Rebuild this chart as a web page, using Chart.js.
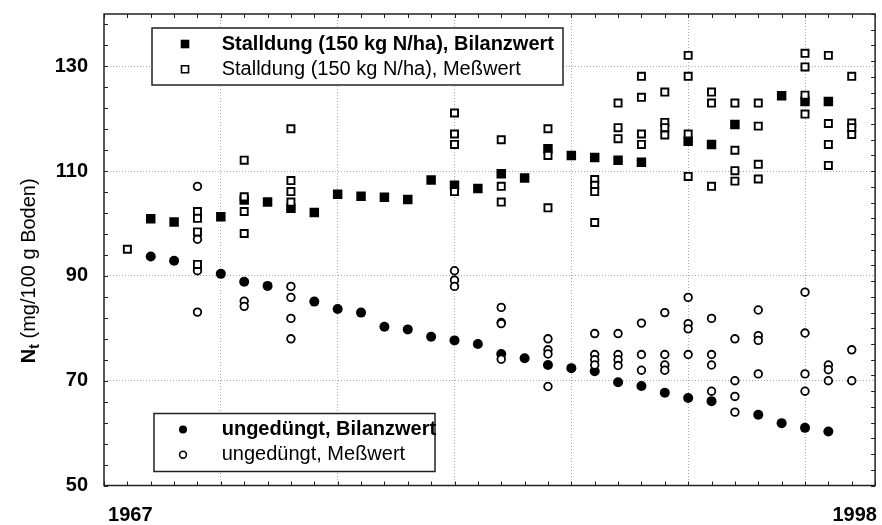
<!DOCTYPE html>
<html>
<head>
<meta charset="utf-8">
<title>Nt Bilanzwert / Meßwert</title>
<script src="https://cdn.jsdelivr.net/npm/chart.js@4.4.0/dist/chart.umd.min.js"></script>
<style>
  html, body { margin: 0; padding: 0; background: #fff; }
  #wrap { width: 882px; height: 525px; }
</style>
</head>
<body>
<div id="wrap"><canvas id="nt-chart" width="882" height="525"></canvas></div>
<script>
// Stalldung (150 kg N/ha), Bilanzwert
const stallBilanzYears = [1968, 1969, 1971, 1972, 1973, 1974, 1975, 1976, 1977, 1978, 1979, 1980, 1981, 1982,
  1983, 1984, 1985, 1986, 1987, 1988, 1989, 1991, 1992, 1993, 1995, 1996, 1997];
const stallBilanzValues = [100.9, 100.3, 101.3, 104.5, 104.1, 102.9, 102.1, 105.6, 105.2, 105.0, 104.6, 108.3, 107.3, 106.7,
  109.5, 108.7, 114.3, 113.0, 112.6, 112.1, 111.7, 115.7, 115.1, 118.9, 124.4, 123.3, 123.3];

// Stalldung (150 kg N/ha), Meßwert (several samples per year)
const stallMessYears = [1967, 1970, 1972, 1974, 1981, 1983, 1985, 1987, 1988, 1989, 1990, 1991, 1992, 1993, 1994, 1996, 1997, 1998];
const stallMessValues = [
  [95.1],
  [102.3, 101.0, 98.4, 92.2],
  [112.1, 105.1, 102.3, 98.1],
  [118.1, 108.2, 106.1, 104.1],
  [121.1, 117.1, 115.1, 106.1],
  [116.0, 107.1, 104.1],
  [118.1, 113.0, 103.0],
  [108.4, 107.3, 106.1, 100.2],
  [123.0, 118.3, 116.2],
  [128.1, 124.1, 117.1, 115.1],
  [125.1, 119.3, 118.3, 116.9],
  [132.1, 128.1, 117.1, 109.0],
  [125.1, 123.0, 107.1],
  [123.0, 114.0, 110.1, 108.1],
  [123.0, 118.6, 111.3, 108.5],
  [132.5, 129.9, 124.5, 120.9],
  [132.1, 119.1, 115.1, 111.1],
  [128.1, 119.2, 118.3, 117.0]
];

// ungedüngt, Bilanzwert
const ungBilanzYears = [1968, 1969, 1971, 1972, 1973, 1975, 1976, 1977, 1978, 1979, 1980, 1981, 1982,
  1983, 1984, 1985, 1986, 1987, 1988, 1989, 1990, 1991, 1992, 1994, 1995, 1996, 1997];
const ungBilanzValues = [93.7, 92.9, 90.4, 88.9, 88.1, 85.1, 83.7, 83.0, 80.3, 79.8, 78.4, 77.7, 77.0,
  75.1, 74.3, 73.0, 72.4, 71.8, 69.7, 69.0, 67.7, 66.7, 66.1, 63.5, 61.9, 61.0, 60.3];

// ungedüngt, Meßwert
const ungMessYears = [1970, 1972, 1974, 1981, 1983, 1985, 1987, 1988, 1989, 1990, 1991, 1992, 1993, 1994, 1996, 1997, 1998];
const ungMessValues = [
  [107.1, 97.0, 91.0, 83.1],
  [85.2, 84.2],
  [88.0, 85.9, 81.9, 78.0],
  [91.0, 89.2, 88.0],
  [84.0, 81.1, 80.9, 74.1],
  [78.0, 75.9, 75.1, 68.9],
  [79.0, 75.0, 74.0, 73.0],
  [79.0, 75.0, 74.0, 72.9],
  [81.0, 75.0, 72.0],
  [83.0, 75.0, 73.0, 72.0],
  [85.9, 80.9, 79.9, 75.0],
  [81.9, 75.0, 73.0, 68.0],
  [78.0, 70.0, 67.0, 64.0],
  [83.5, 78.6, 77.7, 71.3],
  [86.9, 79.1, 71.3, 68.0],
  [73.0, 72.1, 70.0],
  [75.9, 70.0]
];

const xTickLabels = [1967, 1998];
const yTickLabels = [50, 70, 90, 110, 130];

const FONT = "'Liberation Sans', Arial, Helvetica, sans-serif";
Chart.defaults.font.family = FONT;
Chart.defaults.color = '#000';

const pairs = (years, values) => years.map((x, i) => ({ x: x, y: values[i] }));
const groups = (years, lists) => years.flatMap((x, i) => lists[i].map(v => ({ x: x, y: v })));

const gridColor = '#a8a8a8';

// no automatic label padding, the plot box is fixed by the axis sizes
function noPad(s) {
  s.paddingLeft = 0; s.paddingRight = 0; s.paddingTop = 0; s.paddingBottom = 0;
}

// frame, inner ticks, two boxed legends and the y title
const decorPlugin = {
  id: 'decor',
  afterDraw(chart) {
    const ctx = chart.ctx;
    const { left, right, top, bottom } = chart.chartArea;
    const xs = chart.scales.x, ys = chart.scales.y;
    ctx.save();

    // inner ticks
    ctx.strokeStyle = '#222';
    ctx.lineWidth = 1;
    ctx.beginPath();
    for (let yr = xs.min; yr <= xs.max; yr++) {
      const px = Math.round(xs.getPixelForValue(yr)) + 0.5;
      ctx.moveTo(px, bottom); ctx.lineTo(px, bottom - 4);
      ctx.moveTo(px, top); ctx.lineTo(px, top + 4);
    }
    for (let v = ys.min; v <= ys.max; v += 4) {
      const py = Math.round(ys.getPixelForValue(v)) + 0.5;
      ctx.moveTo(left, py); ctx.lineTo(left + 4, py);
    }
    for (let v = ys.min; v <= ys.max; v += 3) {
      const py = Math.round(ys.getPixelForValue(v)) + 0.5;
      ctx.moveTo(right, py); ctx.lineTo(right - 4, py);
    }
    ctx.stroke();

    // frame
    ctx.lineWidth = 1.5;
    ctx.strokeStyle = '#222';
    ctx.strokeRect(left, top, right - left, bottom - top);

    // legends
    const ds = chart.data.datasets;
    drawLegendBox(ctx, left + 48, top + 14, 411, 57, [ds[2], ds[0]], 33);
    drawLegendBox(ctx, left + 50, bottom - 72, 281, 58, [ds[3], ds[1]], 29);

    // y title: N (bold) + t (subscript) + rest
    ctx.translate(29, (top + bottom) / 2 + 21);
    ctx.rotate(-Math.PI / 2);
    ctx.fillStyle = '#000';
    ctx.textBaseline = 'middle';
    const partN = 'bold 20px ' + FONT, partT = 'bold 14px ' + FONT, partRest = '20px ' + FONT;
    const rest = ' (mg/100 g Boden)';
    ctx.font = partN; const wN = ctx.measureText('N').width;
    ctx.font = partT; const wT = ctx.measureText('t').width;
    ctx.font = partRest; const wR = ctx.measureText(rest).width;
    let x0 = -(wN + wT + wR) / 2;
    ctx.font = partN; ctx.fillText('N', x0, 0); x0 += wN;
    ctx.font = partT; ctx.fillText('t', x0, 6); x0 += wT;
    ctx.font = partRest; ctx.fillText(rest, x0, 0);
    ctx.restore();
  }
};

function drawMarker(ctx, d, x, y) {
  ctx.save();
  ctx.fillStyle = d.backgroundColor;
  ctx.strokeStyle = d.borderColor;
  ctx.lineWidth = 1.6;
  const hollow = d.backgroundColor !== '#000';
  ctx.beginPath();
  if (d.pointStyle === 'rect') {
    const s = hollow ? 7 : 8.6;
    ctx.rect(x - s / 2, y - s / 2, s, s);
  } else {
    ctx.arc(x, y, hollow ? 3.4 : 4, 0, Math.PI * 2);
  }
  ctx.fill();
  if (hollow) ctx.stroke();
  ctx.restore();
}

function drawLegendBox(ctx, x, y, w, h, items, markerX) {
  ctx.save();
  ctx.fillStyle = '#fff';
  ctx.fillRect(x, y, w, h);
  ctx.lineWidth = 1.5;
  ctx.strokeStyle = '#222';
  ctx.strokeRect(x, y, w, h);
  items.forEach((d, i) => {
    const cy = y + 16 + i * 25.2;
    drawMarker(ctx, d, x + markerX, cy);
    ctx.fillStyle = '#000';
    ctx.textBaseline = 'middle';
    ctx.font = (i === 0 ? 'bold ' : '') + '20px ' + FONT;
    ctx.fillText(d.label, 221.7, cy);
  });
  ctx.restore();
}

new Chart(document.getElementById('nt-chart'), {
  type: 'scatter',
  data: {
    datasets: [
      {
        label: 'Stalldung (150 kg N/ha), Meßwert',
        data: groups(stallMessYears, stallMessValues),
        pointStyle: 'rect', pointRadius: 5, borderWidth: 1.9,
        backgroundColor: '#fff', borderColor: '#000', order: 0
      },
      {
        label: 'ungedüngt, Meßwert',
        data: groups(ungMessYears, ungMessValues),
        pointStyle: 'circle', pointRadius: 3.8, borderWidth: 1.8,
        backgroundColor: '#fff', borderColor: '#000', order: 1
      },
      {
        label: 'Stalldung (150 kg N/ha), Bilanzwert',
        data: pairs(stallBilanzYears, stallBilanzValues),
        pointStyle: 'rect', pointRadius: 6.7, borderWidth: 0,
        backgroundColor: '#000', borderColor: '#000', order: 2
      },
      {
        label: 'ungedüngt, Bilanzwert',
        data: pairs(ungBilanzYears, ungBilanzValues),
        pointStyle: 'circle', pointRadius: 5, borderWidth: 0,
        backgroundColor: '#000', borderColor: '#000', order: 3
      }
    ]
  },
  options: {
    responsive: false,
    animation: false,
    devicePixelRatio: 1,
    events: [],
    layout: { padding: { top: 14, right: 5, left: 0, bottom: 0 } },
    plugins: {
      legend: { display: false },
      tooltip: { enabled: false }
    },
    scales: {
      x: {
        type: 'linear',
        min: 1966,
        max: 1999,
        afterFit: s => { s.height = 39.5; noPad(s); },
        ticks: {
          stepSize: 1,
          autoSkip: false,
          maxRotation: 0,
          padding: 18,
          labelOffset: 3,
          font: { size: 20, weight: 'bold' },
          callback: v => xTickLabels.includes(v) ? String(v) : ''
        },
        grid: {
          drawTicks: false,
          color: c => (c.tick && c.tick.value > 1966 && c.tick.value < 1999 && (c.tick.value - 1966) % 5 === 0) ? gridColor : 'transparent'
        },
        border: { display: false, dash: [1, 2] }
      },
      y: {
        min: 50,
        max: 140,
        afterBuildTicks: s => { s.ticks = yTickLabels.concat([s.max]).map(v => ({ value: v })); },
        afterFit: s => { s.width = 104; noPad(s); },
        ticks: {
          padding: 16,
          font: { size: 20, weight: 'bold' },
          callback: v => yTickLabels.includes(v) ? String(v) : ''
        },
        grid: {
          drawTicks: false,
          color: c => (c.tick && c.tick.value > 50 && yTickLabels.includes(c.tick.value)) ? gridColor : 'transparent'
        },
        border: { display: false, dash: [1, 2] }
      }
    }
  },
  plugins: [decorPlugin]
});
</script>
</body>
</html>
